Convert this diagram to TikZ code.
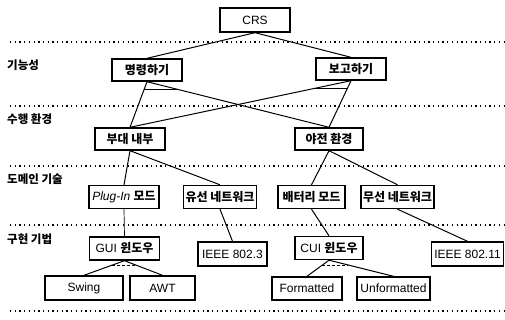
\documentclass[tikz,border=0pt]{standalone}
\usepackage{fontspec}
\setmainfont{Liberation Sans}
\newfontfamily\krfont{Noto Sans CJK KR}
\usepackage{tikz}
\usetikzlibrary{calc}
\newcommand{\krtxt}[1]{{\krfont\bfseries #1}}

\begin{document}
\begin{tikzpicture}[x=1pt, y=-1pt,
  feat/.style={draw, line width=1.4pt, minimum width=70pt, minimum height=23pt,
    inner sep=2pt, font=\fontsize{12}{14}\selectfont},
  link/.style={line width=1pt},
  levellabel/.style={anchor=west, inner sep=0pt, font=\fontsize{11.5}{13}\selectfont},
  sepline/.style={line width=1.3pt, dash pattern=on 1.3pt off 3.4pt},
  altmark/.style={line width=0.9pt},
  optmark/.style={line width=0.9pt, densely dashed}]
\useasboundingbox (0,0) rectangle (505,320);
% level separators
\foreach \yy in {42,106,166,225,311}
  \draw[sepline] (10,\yy) -- (505,\yy);
\node[levellabel] (lvfunc) at (7,65) {\krtxt{기능성}};
\node[levellabel] (lvenv) at (7,119) {\krtxt{수행 환경}};
\node[levellabel] (lvdom) at (7,179) {\krtxt{도메인 기술}};
\node[levellabel] (lvimpl) at (7,239) {\krtxt{구현 기법}};
% features
\node[feat, minimum height=24pt] (crs) at (255,20) {CRS};
\node[feat, minimum height=22pt] (cmd) at (147,70) {\krtxt{명령하기}};
\node[feat, minimum height=22pt] (rpt) at (351,69) {\krtxt{보고하기}};
\node[feat, minimum height=22pt] (unit) at (130,139) {\krtxt{부대 내부}};
\node[feat, minimum height=22pt, minimum width=68pt] (field) at (329,139) {\krtxt{야전 환경}};
\node[feat] (plug) at (124,197) {{\itshape Plug-In} \krtxt{모드}};
\node[feat] (wired) at (220,197) {\krtxt{유선 네트워크}};
\node[feat, minimum width=67pt] (batt) at (311.5,197) {\krtxt{배터리 모드}};
\node[feat] (wless) at (397.5,197) {\krtxt{무선 네트워크}};
\node[feat] (gui) at (124.5,248.5) {GUI \krtxt{윈도우}};
\node[feat, minimum width=69pt, minimum height=24pt] (ieee3) at (232.5,254) {IEEE 802.3};
\node[feat, minimum width=68pt] (cui) at (329,248) {CUI \krtxt{윈도우}};
\node[feat, minimum width=72pt, minimum height=24pt] (ieee11) at (467.5,254) {IEEE 802.11};
\node[feat, minimum width=78pt, minimum height=24pt] (swing) at (84,288) {Swing};
\node[feat, minimum width=65pt, minimum height=24pt] (awt) at (162.5,288) {AWT};
\node[feat] (fmt) at (307,288.5) {Formatted};
\node[feat, minimum width=73pt] (unfmt) at (393.5,288.5) {Unformatted};
% connectors
\draw[link] (crs.south) -- (cmd.north);
\draw[link] (crs.south) -- (rpt.north);
\draw[link] (cmd.south) -- (unit.north);
\draw[link] (cmd.south) -- (field.north);
\draw[link] (rpt.south) -- (unit.north);
\draw[link] (rpt.south) -- (field.north);
\draw[link] (unit.south) -- (plug.north);
\draw[link] (unit.south) -- (wired.north);
\draw[link] (field.south) -- (batt.north);
\draw[link] (field.south) -- (wless.north);
\draw[link, line width=0.7pt] (plug.south) -- (gui.north);
\draw[link] (wired.south) -- (ieee3.north);
\draw[link] (batt.south) -- (cui.north);
\draw[link] (wless.south) -- (ieee11.north);
\draw[link] (gui.south) -- (swing.north);
\draw[link] (gui.south) -- (awt.north);
\draw[link] (cui.south) -- (fmt.north);
\draw[link] (cui.south) -- (unfmt.north);
% group marks
\draw[altmark] ($(cmd.south)!0.17!(unit.north)$) -- ($(cmd.south)!0.17!(field.north)$);
\draw[altmark] ($(rpt.south)!0.17!(unit.north)$) -- ($(rpt.south)!0.17!(field.north)$);
\draw[optmark] ($(gui.south)!0.3!(swing.north)$) -- ($(gui.south)!0.3!(awt.north)$);
\draw[optmark] ($(cui.south)!0.3!(fmt.north)$) -- ($(cui.south)!0.3!(unfmt.north)$);
\end{tikzpicture}
\end{document}
